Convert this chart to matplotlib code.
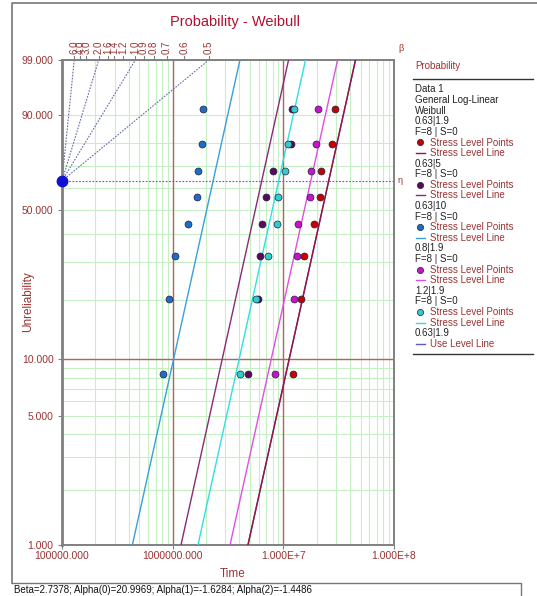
import numpy as np
import matplotlib
matplotlib.use("Agg")
import matplotlib.pyplot as plt
from matplotlib.transforms import blended_transform_factory

# ---------- Data ----------
stress_labels = ["0.63|1.9", "0.63|5", "0.63|10", "0.8|1.9", "1.2|1.9"]
unrel_pct = [8.33, 20.24, 32.14, 44.05, 55.95, 67.86, 79.76, 91.67]

times_1 = [1.23e7, 1.44e7, 1.55e7, 1.89e7, 2.13e7, 2.17e7, 2.73e7, 2.96e7]
times_2 = [4.76e6, 5.93e6, 6.15e6, 6.44e6, 7.01e6, 8.11e6, 1.17e7, 1.19e7]
times_3 = [8.13e5, 9.31e5, 1.04e6, 1.38e6, 1.65e6, 1.70e6, 1.83e6, 1.89e6]
times_4 = [8.45e6, 1.24e7, 1.33e7, 1.37e7, 1.74e7, 1.79e7, 1.96e7, 2.07e7]
times_5 = [4.06e6, 5.62e6, 7.21e6, 8.75e6, 8.93e6, 1.03e7, 1.11e7, 1.25e7]
stress_times = [times_1, times_2, times_3, times_4, times_5]

beta = 2.7378
eta = [2.57e7, 6.38e6, 2.32e6, 1.77e7, 9.08e6]
use_eta = 2.57e7

beta_scale = [0.5, 0.6, 0.7, 0.8, 0.9, 1.0, 1.2, 1.4, 1.6, 2.0, 3.0, 4.0, 6.0]
beta_lines = [0.5, 1.0, 2.0, 6.0]

x_ticks = [1e5, 1e6, 1e7, 1e8]
x_tick_labels = ["100000.000", "1000000.000", "1.000E+7", "1.000E+8"]
y_ticks = [1, 5, 10, 50, 90, 99]
y_tick_labels = ["1.000", "5.000", "10.000", "50.000", "90.000", "99.000"]
y_grid = [2, 3, 4, 6, 7, 8, 9, 20, 30, 40, 60, 70, 80]

point_colors = ["#c80000", "#5a0a5a", "#1f6cc4", "#c814c8", "#33cccc"]
line_colors = ["#9a1040", "#8a2a78", "#3aa0d8", "#e050e0", "#30e0e0"]
use_color = "#5a5ac8"

RED = "#993333"
GRID = "#c6efc6"
REF = "#b86060"
plt.rcParams["font.family"] = ["Liberation Sans", "DejaVu Sans"]


def fwd(p):
    with np.errstate(all="ignore"):
        return np.log(-np.log(1 - np.asarray(p, dtype=float) / 100.0))


def inv(y):
    return 100.0 * (1 - np.exp(-np.exp(np.asarray(y, dtype=float))))


def weibull_line(e, b):
    p = np.array([1.0, 99.0])
    t = e * (-np.log(1 - p / 100.0)) ** (1.0 / b)
    return t, p


fig = plt.figure(figsize=(5.37, 5.96), dpi=100)

# overlay in pixel coordinates for frame, labels, legend and status bar
ov = fig.add_axes([0, 0, 1, 1], zorder=0)
ov.set_xlim(0, 537)
ov.set_ylim(596, 0)
ov.axis("off")

ax = fig.add_axes([62 / 537, 1 - 545 / 596, 332 / 537, 485 / 596], zorder=1)
ax.set_xscale("log")
ax.set_yscale("function", functions=(fwd, inv))
ax.set_xlim(1e5, 1e8)
ax.set_ylim(1, 99)

# grid
ax.set_xticks(x_ticks)
ax.set_xticklabels(x_tick_labels)
ax.set_yticks(y_ticks)
ax.set_yticklabels(y_tick_labels)
ax.set_yticks(y_grid, minor=True)
ax.grid(True, which="both", color=GRID, lw=0.8)
ax.set_axisbelow(True)
ax.tick_params(which="minor", length=0)
ax.tick_params(which="major", length=3, color="#808080", labelsize=7.5,
               labelcolor=RED, pad=1)
ax.tick_params(axis="y", pad=3)
for s in ax.spines.values():
    s.set_color("#808080")
    s.set_linewidth(1.4)
ax.spines["left"].set_linewidth(2)

# reference lines
for xv in [1e6, 1e7]:
    ax.axvline(xv, color=REF, lw=1, zorder=1.5)
ax.axhline(10, color=REF, lw=1, zorder=1.5)

# beta scale
p_eta = inv(0.0)
ax.plot([1e5, 1e8], [p_eta, p_eta], color=use_color, ls=(0, (1.5, 1.5)), lw=0.8, zorder=2)
top = fwd(99)
trans_top = blended_transform_factory(ax.transData, ax.transAxes)
for b in beta_scale:
    xt = 1e5 * np.exp(top / b)
    ax.plot([xt, xt], [1.0, 1.008], color="#808080", lw=0.8, transform=trans_top, clip_on=False)
    ax.text(xt, 1.012, f"{b:.1f}", rotation=90, ha="center", va="bottom", fontsize=7,
            color=RED, transform=trans_top)
for b in beta_lines:
    xt = 1e5 * np.exp(top / b)
    ax.plot([1e5, xt], [p_eta, 99], color="#6a6aaa", ls=(0, (1.5, 1.2)), lw=0.8, zorder=2)
ax.plot([1e5], [p_eta], "o", ms=7.5, color="#1010d0", clip_on=False, zorder=5)
ax.text(1.02, 1.015, "β", transform=ax.transAxes, fontsize=6.5, color=RED, ha="center", va="bottom")
ax.text(1.012, p_eta, "η", transform=blended_transform_factory(ax.transAxes, ax.transData),
        fontsize=6.5, color=RED, ha="left", va="center")

# stress level lines and points
t, p = weibull_line(use_eta, beta)
ax.plot(t, p, color=use_color, lw=1, zorder=3)
for i in range(len(stress_labels)):
    t, p = weibull_line(eta[i], beta)
    ax.plot(t, p, color=line_colors[i], lw=1, zorder=3)
for i in range(len(stress_labels)):
    ax.plot(stress_times[i], unrel_pct, "o", ms=5, color=point_colors[i],
            mec="#202040", mew=0.5, zorder=4)

# titles
ov.text(235, 22, "Probability - Weibull", color="#b01030", fontsize=10.5, ha="center", va="center")
ov.text(233, 574, "Time", color=RED, fontsize=8.5, ha="center", va="center")
ov.text(28, 302, "Unreliability", color=RED, fontsize=8.5, rotation=90, ha="center", va="center")

# legend
lx = 415
ov.text(lx, 66, "Probability", color=RED, fontsize=7, va="center")
ov.plot([413, 533], [79, 79], color="#333333", lw=1)
rows = [("t", "Data 1"), ("t", "General Log-Linear"), ("t", "Weibull")]
for i, lab in enumerate(stress_labels):
    rows += [("t", lab), ("t", "F=8 | S=0"), ("p", i), ("l", i)]
rows += [("t", "0.63|1.9"), ("u", None)]
y = 89.5
for kind, val in rows:
    if kind == "t":
        ov.text(lx, y, val, color="#222222", fontsize=7, va="center")
    elif kind == "p":
        ov.plot([lx + 5], [y], "o", ms=4.5, color=point_colors[val], mec="#202040", mew=0.5)
        ov.text(lx + 15, y, "Stress Level Points", color=RED, fontsize=7, va="center")
    elif kind == "l":
        ov.plot([lx + 1, lx + 10], [y, y], color=line_colors[val], lw=1)
        ov.text(lx + 15, y, "Stress Level Line", color=RED, fontsize=7, va="center")
    else:
        ov.plot([lx + 1, lx + 10], [y, y], color=use_color, lw=1)
        ov.text(lx + 15, y, "Use Level Line", color=RED, fontsize=7, va="center")
    y += 10.6
ov.plot([413, 533], [354, 354], color="#333333", lw=1)

# frame and status bar
ov.plot([12, 12, 537], [583, 3, 3], color="#777777", lw=1.2)
ov.plot([12, 521, 521], [583, 583, 596], color="#777777", lw=1)
ov.text(14, 590, "Beta=2.7378; Alpha(0)=20.9969; Alpha(1)=-1.6284; Alpha(2)=-1.4486",
        fontsize=7, color="#111111", va="center")

fig.savefig("out.png", dpi=100)
